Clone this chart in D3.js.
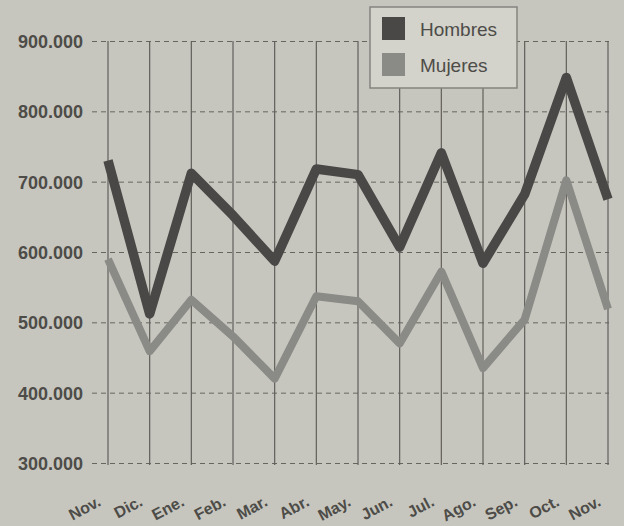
<!DOCTYPE html>
<html>
<head>
<meta charset="utf-8">
<script src="https://cdn.jsdelivr.net/npm/d3@7"></script>
<style>
  body { margin: 0; background: #c7c6be; }
  svg { display: block; }
</style>
</head>
<body>
<div id="chart"></div>
<script>
const months = ["Nov.", "Dic.", "Ene.", "Feb.", "Mar.", "Abr.", "May.", "Jun.", "Jul.", "Ago.", "Sep.", "Oct.", "Nov."];
const hombres = [730, 512, 712, 652, 587, 718, 710, 607, 741, 584, 682, 848, 675];
const mujeres = [590, 459, 532, 480, 420, 537, 530, 470, 572, 435, 504, 702, 519];
const yTicks = [300, 400, 500, 600, 700, 800, 900];
const seriesNames = ["Hombres", "Mujeres"];

const width = 624, height = 526;
const margins = { top: 41, right: 16, bottom: 63, left: 108 };
const innerW = width - margins.left - margins.right;
const innerH = height - margins.top - margins.bottom;

const svg = d3.select("#chart").append("svg")
    .attr("width", width)
    .attr("height", height);

svg.append("rect")
    .attr("width", width).attr("height", height)
    .attr("fill", "#c7c6be");

const g = svg.append("g")
    .attr("transform", `translate(${margins.left},${margins.top})`);

// index based x so the repeated "Nov." stays two points
const x = d3.scalePoint()
    .domain(d3.range(months.length))
    .range([0, innerW]);

const y = d3.scaleLinear()
    .domain([300, 900])
    .range([innerH, 0]);

const color = d3.scaleOrdinal()
    .domain(seriesNames)
    .range(["#494846", "#8a8a86"]);

const fmt = d => d3.format(",")(d * 1000).replace(/,/g, ".");

// horizontal dashed grid + labels
const yAxis = g.append("g")
    .call(d3.axisLeft(y).tickValues(yTicks).tickSize(-innerW - 16).tickFormat(fmt).tickPadding(9));
yAxis.select(".domain").remove();
yAxis.selectAll(".tick line")
    .attr("x1", -16)
    .attr("x2", innerW + 1)
    .attr("stroke", "#66655f")
    .attr("stroke-width", 1)
    .attr("stroke-dasharray", "5,4");
yAxis.selectAll(".tick text")
    .attr("x", -25)
    .attr("dy", "0.36em")
    .attr("fill", "#4d4c48")
    .style("font-family", "'Liberation Sans', Arial, sans-serif")
    .style("font-weight", "bold")
    .style("font-size", "18px");

// vertical grid lines
g.selectAll(".vline")
    .data(d3.range(months.length))
    .enter().append("line")
    .attr("class", "vline")
    .attr("x1", d => x(d)).attr("x2", d => x(d))
    .attr("y1", 0).attr("y2", innerH + 2)
    .attr("stroke", "#605f5a")
    .attr("stroke-width", 1.2);

// month labels, rotated
g.selectAll(".mlabel")
    .data(months)
    .enter().append("text")
    .attr("class", "mlabel")
    .attr("transform", (d, i) => `translate(${x(i) - 6},${innerH + 42}) rotate(-28)`)
    .attr("text-anchor", "end")
    .attr("fill", "#4d4c48")
    .style("font-family", "'Liberation Sans', Arial, sans-serif")
    .style("font-weight", "bold")
    .style("font-size", "16px")
    .text(d => d);

// lines
const line = d3.line()
    .x((d, i) => x(i))
    .y(d => y(d));

const seriesData = [
    { key: "Mujeres", values: mujeres, w: 8 },
    { key: "Hombres", values: hombres, w: 9.5 }
];

g.selectAll(".series")
    .data(seriesData)
    .enter().append("path")
    .attr("class", "series")
    .attr("d", d => line(d.values))
    .attr("fill", "none")
    .attr("stroke", d => color(d.key))
    .attr("stroke-width", d => d.w)
    .attr("stroke-linejoin", "round");

// legend
const legend = svg.append("g")
    .attr("transform", "translate(370,7)");

legend.append("rect")
    .attr("width", 147).attr("height", 81)
    .attr("fill", "#d3d2cb")
    .attr("stroke", "#85847f")
    .attr("stroke-width", 1.5);

legend.selectAll(".legend-item")
    .data(seriesNames)
    .enter().append("g")
    .attr("class", "legend-item")
    .attr("transform", (d, i) => `translate(12,${10 + i * 36})`)
    .each(function(d) {
        const item = d3.select(this);
        item.append("rect")
            .attr("width", 23).attr("height", 23)
            .attr("fill", color(d));
        item.append("text")
            .attr("x", 38)
            .attr("y", 19)
            .attr("fill", "#4d4c48")
            .style("font-family", "'Liberation Sans Narrow', 'Arial Narrow', sans-serif")
            .style("font-size", "19px")
            .text(d);
    });
</script>
</body>
</html>
